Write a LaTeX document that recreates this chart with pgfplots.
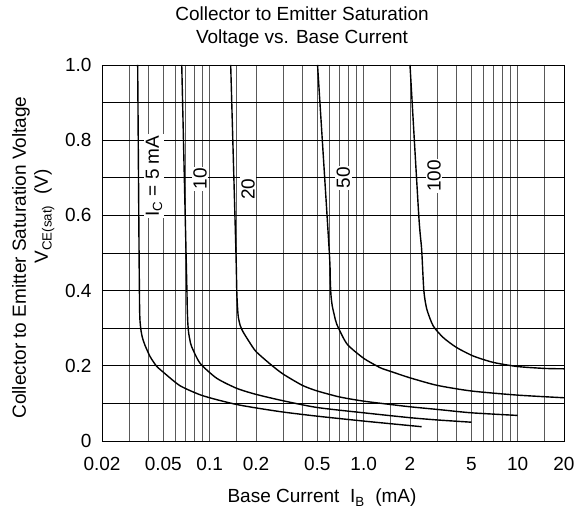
\documentclass[border=0pt]{standalone}
\usepackage{pgfplots}
\pgfplotsset{compat=1.18}
\usepackage{fontspec}
\setmainfont{Liberation Sans}
\tikzset{curve/.style={black, line width=1.4pt, smooth, tension=0.4}}
\begin{document}
\fontsize{19pt}{23pt}\selectfont
\begin{tikzpicture}
\begin{axis}[
  at={(0pt,0pt)}, anchor=south west,
  scale only axis, width=462pt, height=376pt,
  xmode=log, xmin=0.02, xmax=20, ymin=0, ymax=1,
  xtick={0.02,0.05,0.1,0.2,0.5,1,2,5,10,20},
  xticklabels={0.02,0.05,0.1,0.2,0.5,1.0,2,5,10,20},
  minor xtick={0.03,0.04,0.06,0.07,0.08,0.09,0.15,0.3,0.4,0.6,0.7,0.8,0.9,1.5,3,4,6,7,8,9,15},
  ytick={0,0.2,0.4,0.6,0.8,1},
  yticklabels={0,0.2,0.4,0.6,0.8,1.0},
  minor ytick={0.1,0.3,0.5,0.7,0.9},
  grid=both,
  major grid style={},
  minor grid style={},
  grid style={line width=0.7pt},
  x grid style={black!65},
  y grid style={black},
  major tick length=0pt, minor tick length=0pt,
  axis line style={line width=0.8pt},
  xticklabel style={yshift=-10pt},
  yticklabel style={xshift=-4pt},
  /pgf/number format/assume math mode=true,
]
% IC = 5 mA
\addplot[curve] coordinates {(0.0341,1.0) (0.0348,0.51) (0.0350,0.40) (0.0351,0.35) (0.0353,0.32) (0.0358,0.295) (0.0366,0.275) (0.038,0.255) (0.041,0.225) (0.045,0.200) (0.050,0.183) (0.0642,0.147) (0.0866,0.123) (0.111,0.110) (0.15,0.097) (0.2,0.088) (0.3,0.077) (0.5,0.066) (1.0,0.053) (2.0,0.041) (2.38,0.038)};
% IC = 10 mA
\addplot[curve] coordinates {(0.0659,1.0) (0.0702,0.51) (0.0712,0.40) (0.0716,0.35) (0.0722,0.312) (0.0732,0.285) (0.0745,0.268) (0.0764,0.251) (0.0866,0.207) (0.111,0.167) (0.15,0.140) (0.2,0.124) (0.3,0.107) (0.5,0.089) (1.0,0.075) (2.0,0.062) (3.0,0.056) (5.0,0.050)};
% IC = 20 mA
\addplot[curve] coordinates {(0.137,1.0) (0.148,0.51) (0.150,0.40) (0.1515,0.36) (0.1535,0.33) (0.158,0.307) (0.165,0.290) (0.18,0.265) (0.2,0.238) (0.25,0.203) (0.3,0.178) (0.4,0.148) (0.5,0.133) (0.7,0.117) (1.0,0.106) (1.5,0.097) (2.0,0.091) (3.0,0.084) (5.0,0.075) (10,0.068)};
% IC = 50 mA
\addplot[curve] coordinates {(0.502,1.0) (0.597,0.51) (0.607,0.43) (0.613,0.39) (0.625,0.36) (0.645,0.335) (0.67,0.31) (0.78,0.258) (1.0,0.220) (1.28,0.195) (1.5,0.185) (2.0,0.168) (3.0,0.148) (5.0,0.133) (10,0.122) (20,0.115)};
% IC = 100 mA
\addplot[curve] coordinates {(2.0,1.0) (2.28,0.6) (2.38,0.51) (2.46,0.40) (2.57,0.351) (2.83,0.306) (3.29,0.275) (4.0,0.249) (5.15,0.226) (6.95,0.209) (10,0.198) (15,0.193) (20,0.192)};
\node[rotate=90, fill=white, inner sep=1.5pt] at (axis cs:0.0435,0.704) {I\textsubscript{C} = 5 mA};
\node[rotate=90, fill=white, inner sep=1.5pt] at (axis cs:0.0866,0.697) {10};
\node[rotate=90, fill=white, inner sep=1.5pt] at (axis cs:0.178,0.67) {20};
\node[rotate=90, fill=white, inner sep=1.5pt] at (axis cs:0.738,0.70) {50};
\node[rotate=90, fill=white, inner sep=1.5pt] at (axis cs:2.87,0.705) {100};
\end{axis}
\node[anchor=base] at (200pt,420pt) {Collector to Emitter Saturation};
\node[anchor=base] at (200pt,397pt) {Voltage vs. Base Current};
\node[anchor=base] at (220pt,-62pt) {Base Current\ \ I\textsubscript{B}\ \ (mA)};
\node[rotate=90, anchor=base] at (-76pt,183.5pt) {Collector to Emitter Saturation Voltage};
\node[rotate=90, anchor=base] at (-54pt,224.5pt) {V\textsubscript{CE(sat)}\ \ (V)};
\pgfresetboundingbox
\path (-102pt,-75pt) rectangle (476pt,441pt);
\end{tikzpicture}
\end{document}
